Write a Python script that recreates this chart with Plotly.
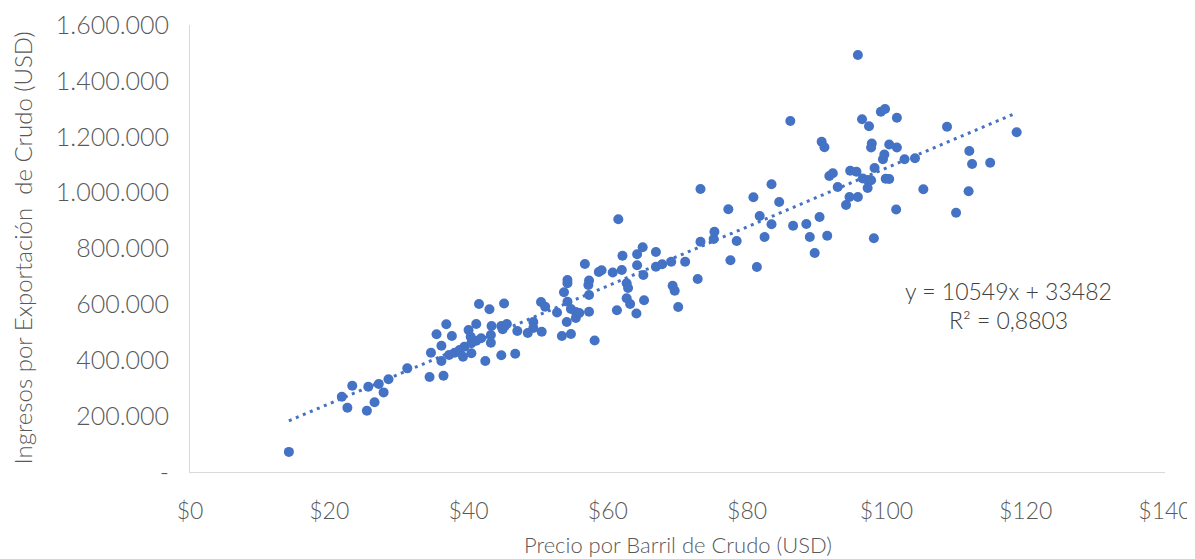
import plotly.graph_objects as go

# Precio por barril (USD)
precio = [
    14.2, 21.8, 22.6, 23.3, 25.4, 25.6, 26.5, 27.1, 27.8, 28.5, 31.2, 34.4, 36.4, 34.6, 36.1, 35.4,
    36.8, 37.6, 36.1, 37.2, 38.0, 38.7, 39.4, 40.4, 41.1, 41.8, 39.2, 40.4, 40.0, 40.3, 41.1, 41.5,
    43.0, 45.1, 43.3, 44.7, 45.5, 44.9, 43.2, 43.2, 47.0, 48.5, 49.3, 49.3, 50.5, 50.4, 51.0, 42.4,
    44.7, 46.7, 58.1, 52.7, 53.4, 54.7, 54.1, 54.7, 55.4, 55.4, 55.9, 57.3, 53.7, 54.2, 54.2, 54.2,
    56.7, 57.3, 57.2, 57.3, 58.7, 59.1, 60.7, 62.0, 61.5, 62.1, 62.7, 62.9, 62.7, 63.2, 61.3, 64.1,
    65.2, 64.2, 65.0, 66.9, 64.2, 65.1, 66.9, 67.8, 69.1, 71.1, 69.3, 69.6, 70.1, 72.9, 73.3, 73.3,
    75.2, 75.3, 77.3, 77.6, 78.5, 80.9, 81.4, 81.8, 82.5, 83.5, 83.5, 84.6, 86.6, 86.2, 88.5, 89.0,
    89.7, 90.4, 90.7, 91.1, 91.5, 91.8, 92.3, 93.0, 94.2, 94.7, 95.9, 94.8, 95.7, 95.9, 96.5, 96.6,
    97.3, 97.8, 97.3, 97.5, 97.9, 97.8, 98.2, 98.3, 99.2, 99.8, 99.5, 99.7, 99.9, 100.4, 100.4, 101.5,
    101.5, 101.4, 102.6, 104.1, 105.3, 108.7, 110.0, 111.8, 111.9, 112.3, 114.9, 118.7
]

# Ingresos por exportación (USD)
ingresos = [
    72000, 269500, 230000, 309000, 219000, 305000, 249500, 315000, 285000, 332000, 371000, 340000,
    344700, 427000, 452000, 493000, 528700, 486800, 397300, 418800, 427000, 436700, 448500, 460700,
    470000, 478600, 412700, 424900, 508300, 484300, 529700, 601300, 582400, 603100, 522600, 522600,
    529700, 510800, 490400, 462800, 504700, 497500, 536900, 515400, 502200, 608500, 591700, 397300,
    417700, 423400, 470700, 570900, 486800, 493900, 536900, 583400, 572700, 551200, 569100, 573800,
    643600, 609600, 687200, 675400, 744500, 685400, 669300, 633500, 715900, 721900, 714100, 723000,
    904500, 774200, 675400, 658600, 621700, 601300, 579100, 567300, 614600, 779200, 804300, 787500,
    739900, 705100, 734800, 743400, 752700, 752700, 666800, 648900, 590600, 690800, 824300, 1012900,
    834000, 860100, 940300, 757700, 826800, 983200, 733700, 916300, 841100, 1029700, 886600, 966400,
    881600, 1256300, 887700, 841100, 783900, 912700, 1182200, 1162200, 845800, 1059500, 1069100,
    1020100, 955700, 984300, 984300, 1078400, 1074900, 1492600, 1262400, 1050500, 1045200, 1044100,
    1016500, 1237400, 1175800, 1161500, 836500, 1088100, 1289600, 1299300, 1119300, 1136400, 1049800,
    1048700, 1172200, 1268200, 1161500, 939600, 1119300, 1122800, 1012200, 1235900, 928100, 1004700,
    1148900, 1102400, 1107100, 1215900
]

# Línea de tendencia (Excel)
pendiente = 10549
intercepto = 33482
r2_texto = "0,8803"

y_tick_vals = [0, 200000, 400000, 600000, 800000, 1000000, 1200000, 1400000, 1600000]
y_tick_text = ["-", "200.000", "400.000", "600.000", "800.000", "1.000.000", "1.200.000", "1.400.000", "1.600.000"]
x_tick_vals = [0, 20, 40, 60, 80, 100, 120, 140]
x_tick_text = ["$0", "$20", "$40", "$60", "$80", "$100", "$120", "$140"]

titulo_x = "Precio por Barril de Crudo (USD)"
titulo_y = "Ingresos por Exportación\u00a0 de Crudo (USD)"

color = "#4472C4"
txt = "#595959"
fam = "Lato"

x_min, x_max = min(precio), max(precio)
trend_x = [x_min, x_max]
trend_y = [pendiente * v + intercepto for v in trend_x]

fig = go.Figure()
fig.add_trace(go.Scatter(
    x=trend_x, y=trend_y, mode="lines",
    line=dict(color=color, width=3, dash="3px,4.6px"),
    showlegend=False, hoverinfo="skip",
))
fig.add_trace(go.Scatter(
    x=precio, y=ingresos, mode="markers",
    marker=dict(size=10, color=color, line=dict(width=0)),
    showlegend=False, hoverinfo="x+y",
))

fig.add_annotation(
    x=117.5, y=648000, xref="x", yref="y",
    text=f"y = {pendiente}x + {intercepto}", showarrow=False,
    font=dict(family=fam, size=23, color="#404040", weight=300), xanchor="center", yanchor="middle",
)
fig.add_annotation(
    x=117.5, y=544000, xref="x", yref="y",
    text=f"R² = {r2_texto}", showarrow=False,
    font=dict(family=fam, size=23, color="#404040", weight=300), xanchor="center", yanchor="middle",
)
# axis titles
fig.add_annotation(
    x=0.5, y=-0.163, xref="paper", yref="paper", text=titulo_x, showarrow=False,
    font=dict(family=fam, size=22, color=txt, weight=300), xanchor="center", yanchor="middle",
)
fig.add_annotation(
    x=-0.1723, y=0.5, xref="paper", yref="paper", text=titulo_y, showarrow=False, textangle=-90,
    font=dict(family=fam, size=24, color=txt, weight=300), xanchor="center", yanchor="middle",
)

fig.update_layout(
    width=1187, height=551,
    margin=dict(l=182, r=30, t=17, b=87),
    paper_bgcolor="white", plot_bgcolor="white",
    font=dict(family=fam, color=txt),
    xaxis=dict(
        range=[0, 140], tickvals=x_tick_vals, ticktext=x_tick_text, automargin=False,
        showgrid=False, zeroline=False, showline=True, linecolor="#D9D9D9", linewidth=1,
        ticks="", ticklabelstandoff=18,
        tickfont=dict(family=fam, size=23, color=txt, weight=300),
    ),
    yaxis=dict(
        range=[0, 1600000], tickvals=y_tick_vals, ticktext=y_tick_text, automargin=False,
        showgrid=False, zeroline=False, showline=True, linecolor="#D9D9D9", linewidth=1,
        ticks="", ticklabelstandoff=15,
        tickfont=dict(family=fam, size=25, color=txt, weight=300),
    ),
)

fig.write_html("out.html")
